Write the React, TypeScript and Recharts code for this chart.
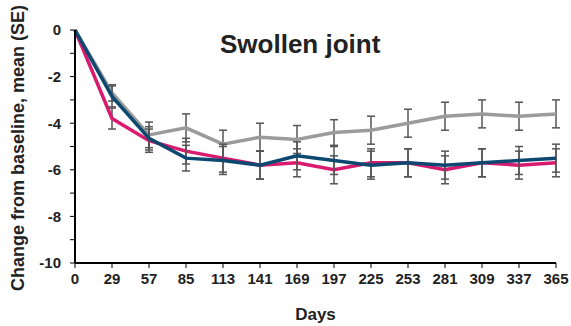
import { ErrorBar, Label, Line, LineChart, XAxis, YAxis } from "recharts";

const days = [0, 29, 57, 85, 113, 141, 169, 197, 225, 253, 281, 309, 337, 365];
const grayMean = [0, -2.7, -4.5, -4.2, -4.9, -4.6, -4.7, -4.4, -4.3, -4.0, -3.7, -3.6, -3.7, -3.6];
const graySe = [0, 0.35, 0.55, 0.6, 0.6, 0.6, 0.6, 0.55, 0.6, 0.6, 0.6, 0.6, 0.6, 0.6];
const pinkMean = [0, -3.8, -4.75, -5.2, -5.5, -5.8, -5.7, -6.0, -5.7, -5.7, -6.0, -5.7, -5.8, -5.7];
const pinkSe = [0, 0.45, 0.5, 0.55, 0.6, 0.6, 0.6, 0.6, 0.6, 0.6, 0.6, 0.6, 0.6, 0.6];
const blueMean = [0, -2.85, -4.65, -5.5, -5.6, -5.8, -5.4, -5.6, -5.8, -5.7, -5.8, -5.7, -5.6, -5.5];
const blueSe = [0, 0.45, 0.5, 0.55, 0.6, 0.6, 0.6, 0.6, 0.6, 0.6, 0.6, 0.6, 0.6, 0.6];
const yTicks = [-10, -9, -8, -7, -6, -5, -4, -3, -2, -1, 0];

const data = days.map((d, i) => ({
  day: String(d),
  gray: grayMean[i],
  grayErr: graySe[i],
  pink: pinkMean[i],
  pinkErr: pinkSe[i],
  blue: blueMean[i],
  blueErr: blueSe[i],
}));

const font = '"Liberation Sans", Arial, sans-serif';
const tickStyle = { fontSize: 15, fontWeight: 700, fill: "#222", fontFamily: font };

export default function App() {
  return (
    <div style={{ position: "absolute", left: 0, top: 0, width: 571, height: 326, background: "#fff", fontFamily: font }}>
      <LineChart width={571} height={326} data={data} margin={{ top: 30, right: 15, bottom: 0, left: 0 }}>
        <XAxis
          dataKey="day"
          type="category"
          padding={{ left: 0, right: 0 }}
          interval={0}
          tick={tickStyle}
          tickSize={5}
          tickMargin={5}
          axisLine={{ stroke: "#000", strokeWidth: 2 }}
          tickLine={{ stroke: "#000" }}
          height={63}
        >
          <Label value="Days" position="insideBottom" offset={6} style={{ fontSize: 17, fontWeight: 700, fill: "#222", fontFamily: font }} />
        </XAxis>
        <YAxis
          type="number"
          domain={[-10, 0]}
          ticks={yTicks}
          interval={0}
          width={75}
          tick={tickStyle}
          tickSize={5}
          tickMargin={9}
          tickFormatter={(v: number) => (v % 2 === 0 ? String(v) : "")}
          axisLine={{ stroke: "#000", strokeWidth: 2 }}
          tickLine={{ stroke: "#000" }}
        />
        <Line dataKey="gray" stroke="#9b9b9b" strokeWidth={3.5} dot={false} isAnimationActive={false}>
          <ErrorBar dataKey="grayErr" direction="y" width={4} stroke="#555" strokeWidth={1.5} />
        </Line>
        <Line dataKey="pink" stroke="#d81b6e" strokeWidth={3.5} dot={false} isAnimationActive={false}>
          <ErrorBar dataKey="pinkErr" direction="y" width={4} stroke="#555" strokeWidth={1.5} />
        </Line>
        <Line dataKey="blue" stroke="#0c4870" strokeWidth={3.5} dot={false} isAnimationActive={false}>
          <ErrorBar dataKey="blueErr" direction="y" width={4} stroke="#555" strokeWidth={1.5} />
        </Line>
      </LineChart>
      <div style={{ position: "absolute", left: 220, top: 29, fontSize: 26, fontWeight: 700, color: "#222", whiteSpace: "nowrap" }}>
        Swollen joint
      </div>
      <div
        style={{
          position: "absolute",
          left: 18,
          top: 148,
          transform: "translate(-50%, -50%) rotate(-90deg)",
          fontSize: 18,
          fontWeight: 700,
          color: "#222",
          whiteSpace: "nowrap",
        }}
      >
        Change from baseline, mean (SE)
      </div>
    </div>
  );
}
